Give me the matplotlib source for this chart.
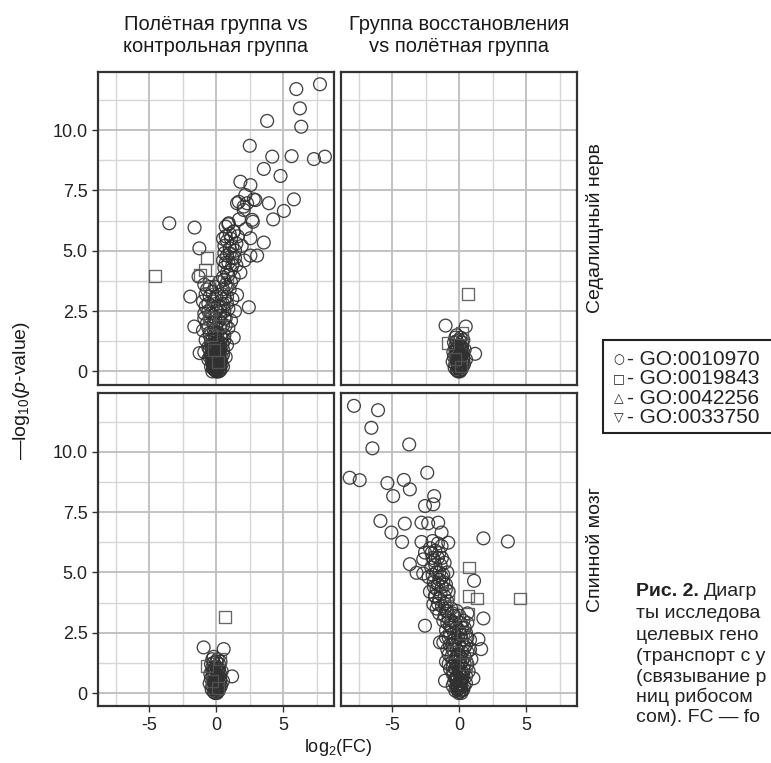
import matplotlib
matplotlib.use("Agg")
import matplotlib.pyplot as plt
from matplotlib.patches import Rectangle

plt.rcParams['font.family'] = ['Liberation Sans', 'DejaVu Sans']
plt.rcParams['mathtext.fontset'] = 'custom'
plt.rcParams['mathtext.rm'] = 'Liberation Sans'
plt.rcParams['mathtext.it'] = 'Liberation Sans:italic'
plt.rcParams['axes.unicode_minus'] = False

# ---------------- data ----------------
col_titles = ["Полётная группа vs\nконтрольная группа",
              "Группа восстановления\nvs полётная группа"]
row_titles = ["Седалищный нерв", "Спинной мозг"]
x_ticks = [-5, 0, 5]
x_tick_labels = ["-5", "0", "5"]
y_ticks = [0, 2.5, 5, 7.5, 10]
y_tick_labels = ["0", "2.5", "5.0", "7.5", "10.0"]
x_minor = [-7.5, -2.5, 2.5, 7.5]
y_minor = [1.25, 3.75, 6.25, 8.75, 11.25]
legend_symbols = ["○", "□", "△", "▽"]
legend_labels = ["GO:0010970", "GO:0019843", "GO:0042256", "GO:0033750"]
caption_bold = "Рис. 2."
caption_lines = ["Диагр", "ты исследова", "целевых гено", "(транспорт с у",
                 "(связывание р", "ниц рибосом", "сом). FC — fo"]

# sciatic nerve, flight vs control
tl_circ_x = [7.75, 5.98, 6.25, 6.35, 3.8, 2.5, 4.18, 5.63, 7.3, 8.12, 3.55, 4.8, 1.8, 2.55,
             2.17, 2.8, 1.55, 2.05, 3.93, 5.8, 5.05, 4.25, 2.73, -3.52, -1.63, 3.55, 2.55,
             2.55, 3.05, -1.27, -1.33, -1.95, 2.43, -1.65, -1.25, 1.68, 2.3, 2.93, 2.05,
             2.68, 0.93, 1.3, 1.55,
             0.9, 1.3, 0.7, 1.1, 1.6, 0.6, 1.0, 1.4, 0.8, 1.2, 0.5, 0.9, 1.5, 0.6, 1.1,
             0.8, 1.3, 0.5, 1.8, 2.1, 1.9, 2.2, 1.7,
             -0.9, -0.5, 0.2, 0.7, 1.0, -0.8, -0.3, 0.4, 0.8, 1.2, -1.0, -0.6, -0.2, 0.1,
             0.5, 0.9, 1.4, -0.9, -0.4, 0.3, 0.7, 1.1, -0.7, -0.2, 0.5, 0.9, -1.0, -0.5,
             0.1, 0.6, 1.3, -0.8, -0.3, 0.3, 0.8, -0.6, -0.1, 0.5, -0.9, -0.4, 0.2, 0.7,
             -0.6, -0.2, 0.3, 0.5, -0.4, 0.0, 0.1, -0.1, 0.2, -0.2, 0.0, 0.3, -0.3, 0.1,
             -0.1, 0.0, 0.2, -0.2, 0.4, 0.0, -0.4, 0.4, 0.0, -0.1, 0.3,
             0.7, 1.0, 0.8, 1.2, 0.6, 1.0, 0.7, 1.2, 0.9, 0.6, 1.1, 0.8, 1.4, 0.5, 1.5,
             -0.7, -0.1, 0.5, -0.5, 0.0, 0.6, -0.8, -0.3, 0.3, 0.8, -0.6, 0.0, 0.6, -0.9,
             -0.4, 0.2, 0.6, -0.6, -0.2, 0.3, 0.7,
             -0.5, -0.1, 0.3, 0.6, -0.4, 0.1, -0.5, -0.2, 0.3, 0.5, -0.3, 0.1, -0.5, 0.2,
             -0.2, 0.4, -0.3, 0.0, 0.2, -0.1, 0.15, -0.15, 0.05, 0.25, -0.25, 0.0, 0.1,
             -0.05, 0.35, -0.35, 0.1, -0.1, 0.45,
             -0.25, 0.05, 0.3, -0.15, 0.2, -0.3, 0.1, -0.05, 0.25, -0.2, 0.15, 0.0, -0.1,
             0.05, 0.2, -0.15, 0.1]
tl_circ_y = [11.9, 11.7, 10.9, 10.14, 10.38, 9.35, 8.9, 8.92, 8.8, 8.9, 8.39, 8.1, 7.86, 7.72,
             7.31, 7.13, 6.97, 6.83, 6.97, 7.13, 6.65, 6.3, 6.2, 6.14, 5.96, 5.34, 5.52,
             4.8, 4.8, 5.1, 3.93, 3.1, 2.66, 1.86, 0.76, 7.03, 6.97, 7.1, 6.69,
             6.28, 6.14, 5.79, 3.17,
             6.1, 5.8, 5.6, 5.5, 5.6, 5.2, 5.1, 5.0, 4.8, 4.7, 4.6, 4.5, 4.4, 4.3, 4.2,
             4.1, 3.9, 3.9, 4.1, 4.6, 5.2, 5.9, 6.3,
             3.6, 3.5, 3.7, 3.6, 3.4, 3.2, 3.3, 3.2, 3.1, 3.0, 2.9, 2.8, 2.9, 2.7,
             2.8, 2.6, 2.5, 2.4, 2.4, 2.3, 2.2, 2.1, 2.0, 2.0, 1.9, 1.8, 1.7, 1.6,
             1.6, 1.5, 1.4, 1.3, 1.3, 1.2, 1.1, 1.0, 1.0, 0.9, 0.8, 0.7, 0.7, 0.6,
             0.5, 0.4, 0.4, 0.2, 0.2, 0.3, 0.1, 0.05, 0.0, 0.1, 0.15, 0.05, 0.0, 0.5,
             0.6, 0.8, 1.0, 0.8, 0.6, 1.2, 1.1, 1.4, 1.8, 2.2, 2.5,
             6.0, 5.7, 5.4, 5.2, 4.9, 4.9, 4.5, 4.4, 4.0, 3.8, 3.7, 3.5, 4.7, 5.5, 5.3,
             3.4, 3.5, 3.4, 3.1, 3.1, 3.0, 2.7, 2.7, 2.7, 2.8, 2.5, 2.5, 2.5, 2.2,
             2.2, 2.1, 2.2, 1.8, 1.7, 1.8, 1.9,
             1.5, 1.4, 1.5, 1.3, 1.3, 1.2, 0.9, 1.1, 1.0, 0.7, 0.9, 0.9, 0.6, 0.8,
             0.6, 0.3, 0.4, 0.6, 0.55, 0.35, 0.25, 0.2, 0.45, 0.1, 0.3, 0.0, 0.15,
             0.1, 0.45, 0.65, 1.35, 1.55, 1.1,
             0.15, 0.2, 0.25, 0.4, 0.35, 0.5, 0.7, 0.75, 0.8, 0.95, 1.05, 0.05, 0.3,
             0.0, 0.6, 0.55, 0.9]
tl_sq_x = [-4.58, -0.7, -0.83, -0.58, -1.2, -0.58, -0.3, 0.8, -0.4, 0.2, -0.2, 0.1, -0.45]
tl_sq_y = [3.96, 4.7, 4.2, 3.72, 4.0, 2.2, 2.6, 3.72, 1.5, 1.9, 0.9, 0.4, 2.2]

# sciatic nerve, recovery vs flight
tr_circ_x = [-1.03, 0.48, 1.18, -0.2, 0.1, 0.3, -0.4, 0.0, 0.2, -0.3, 0.4, -0.1, 0.1, -0.4,
             0.3, 0.0, -0.2, 0.2, -0.3, 0.1, 0.0, -0.1, 0.15, -0.2, 0.05, 0.25, -0.35, 0.35,
             -0.45, 0.5, -0.5, 0.0, -0.15, 0.2, -0.1,
             -0.3, 0.0, 0.25, -0.25, 0.05, -0.05, 0.1, -0.15, 0.3, -0.3, 0.15, 0.0, -0.1,
             0.2, -0.2, 0.1, -0.1, 0.0, 0.2, -0.2, 0.05]
tr_circ_y = [1.9, 1.86, 0.73, 1.5, 1.4, 1.3, 1.2, 1.1, 1.0, 0.9, 0.9, 0.8, 0.7, 0.6,
             0.6, 0.5, 0.4, 0.4, 0.3, 0.3, 0.2, 0.15, 0.1, 0.05, 0.0, 0.2, 0.15, 0.3,
             0.8, 0.5, 0.4, 0.65, 1.0, 1.2, 0.35,
             1.4, 1.3, 0.85, 0.7, 0.55, 0.25, 0.05, 0.5, 0.45, 1.05, 0.9, 0.3, 0.0,
             0.7, 1.25, 0.6, 0.4, 0.15, 0.25, 0.85, 1.0]
tr_sq_x = [0.63, -0.83, 0.18, -0.3, 0.1]
tr_sq_y = [3.2, 1.17, 1.6, 0.5, 0.2]

# spinal cord, flight vs control
bl_circ_x = [-0.95, 0.55, 1.18, -0.2, 0.1, 0.3, -0.4, 0.0, 0.2, -0.3, 0.4, -0.1, 0.1, -0.4,
             0.3, 0.0, -0.2, 0.2, -0.3, 0.1, 0.0, -0.1, 0.15, -0.2, 0.05, 0.25, -0.35, 0.35,
             -0.45, 0.5, -0.5, 0.0, -0.15, 0.2, -0.1,
             -0.3, 0.0, 0.25, -0.25, 0.05, -0.05, 0.1, -0.15, 0.3, -0.3, 0.15, 0.0, -0.1,
             0.2, -0.2, 0.1, -0.1, 0.0, 0.2, -0.2, 0.05]
bl_circ_y = [1.89, 1.82, 0.69, 1.5, 1.4, 1.3, 1.2, 1.1, 1.0, 0.9, 0.9, 0.8, 0.7, 0.6,
             0.6, 0.5, 0.4, 0.4, 0.3, 0.3, 0.2, 0.15, 0.1, 0.05, 0.0, 0.2, 0.15, 0.3,
             0.8, 0.5, 0.4, 0.65, 1.0, 1.2, 0.35,
             1.4, 1.3, 0.85, 0.7, 0.55, 0.25, 0.05, 0.5, 0.45, 1.05, 0.9, 0.3, 0.0,
             0.7, 1.25, 0.6, 0.4, 0.15, 0.25, 0.85, 1.0]
bl_sq_x = [0.65, -0.7, 0.3, -0.3, 0.1]
bl_sq_y = [3.16, 1.13, 1.41, 0.5, 0.2]

# spinal cord, recovery vs flight
br_circ_x = [-7.88, -6.08, -6.58, -6.5, -3.75, -2.4, -8.2, -7.45, -5.38, -4.15, -3.7, -4.95,
             -1.88, -2.57, -1.95, -5.9, -4.08, -2.83, -2.33, -1.58, -5.08, -4.28, -2.83,
             -1.33, 1.8, 3.63, -3.7, -3.2, -2.7, -2.7, -2.57, 1.1, -1.83, -2.57, 1.8, 1.63,
             -1.07, 1.05, -2.07, -1.33, -0.83, -1.95, -1.45, 1.43,
             -2.2, -1.9, -1.6, -2.1, -1.4, -1.7, -2.3, -1.2, -1.5, -1.9, -1.0, -1.3, -1.7,
             -2.2, -0.8, -1.1, -1.5, -0.9, -1.3, -1.7, -0.6, -1.0, -1.5, -0.4, -0.8, -1.2,
             -0.3, -0.7, 0.2, -1.0, -0.4, 0.5, -0.8, -0.1, 0.8, -1.2, -0.5, 0.3, -0.9, -0.2,
             0.6, -0.6, 0.1, 0.9, -1.0, -0.3, 0.4, -0.7, 0.0, 0.7, -0.4, 0.3, -0.2, 0.5,
             -0.5, 0.1, -0.1, 0.2, 0.0, -0.3, 0.3, 0.0, -0.2, 0.1, -0.5, 0.2, -0.1, 0.4,
             -0.3, 0.0, -0.6, 0.3, -0.2, 0.6, -0.9, -1.3, -1.8, -1.1, -2.0, -1.6,
             -1.8, -1.5, -2.0, -1.6, -1.2, -1.8, -1.4, -1.1, -1.6, -1.9, -1.3, -1.0, -2.0,
             -1.5,
             -0.9, -0.5, 0.0, -1.1, -0.6, 0.1, 0.6, -0.9, -0.2, 0.4, -0.7, 0.1, 0.6, -1.0,
             -0.4, 0.2, -0.7, 0.0, 0.5, -0.5, 0.2, 0.8, -0.8, -0.2, 0.4, -0.5, 0.1, 0.6,
             -0.8, -0.3, 0.3, -0.5, 0.0, 0.5, -0.3, 0.2, -0.4, 0.35, -0.15, 0.05, -0.05,
             0.15, -0.2,
             -0.1, 0.1, -0.25, 0.2, 0.0, -0.15, 0.25, -0.3, 0.05, 0.15, -0.05, -0.2]
br_circ_y = [11.9, 11.72, 10.99, 10.14, 10.3, 9.13, 8.92, 8.82, 8.7, 8.83, 8.44, 8.16,
             8.16, 7.75, 7.82, 7.13, 7.02, 7.06, 7.03, 7.06, 6.65, 6.26, 6.26,
             6.65, 6.41, 6.28, 5.34, 4.98, 4.95, 5.54, 5.82, 4.65, 4.03, 2.79, 3.09, 1.82,
             0.51, 0.61, 5.81, 6.09, 6.23, 3.68, 2.1, 2.23,
             6.0, 5.5, 5.6, 5.2, 5.3, 5.0, 4.8, 4.9, 4.7, 4.6, 4.5, 4.4, 4.3,
             4.2, 4.2, 4.0, 3.9, 3.8, 3.6, 3.5, 3.5, 3.4, 3.3, 3.2, 3.1, 3.0,
             2.9, 2.8, 2.7, 2.6, 2.5, 2.5, 2.3, 2.3, 2.2, 2.1, 2.0, 2.0, 1.8, 1.8,
             1.7, 1.5, 1.5, 1.4, 1.3, 1.3, 1.2, 1.0, 1.0, 0.9, 0.8, 0.7, 0.5, 0.4,
             0.3, 0.3, 0.15, 0.1, 0.05, 0.1, 0.15, 0.4, 0.7, 0.8, 1.1, 1.3, 1.6, 1.9,
             2.1, 2.6, 2.7, 3.0, 3.4, 3.3, 5.0, 5.6, 5.9, 5.4, 6.3, 6.2,
             5.3, 5.0, 4.9, 4.5, 4.6, 4.0, 4.1, 3.7, 3.7, 4.4, 4.8, 4.3, 5.6,
             5.8,
             3.4, 3.3, 3.2, 3.2, 3.0, 2.9, 2.9, 2.9, 2.7, 2.7, 2.5, 2.4, 2.3, 2.3,
             2.2, 2.2, 2.0, 2.0, 2.0, 1.8, 1.7, 1.8, 1.6, 1.5, 1.5, 1.3, 1.2, 1.2,
             1.2, 1.0, 1.0, 0.8, 0.8, 0.7, 0.6, 0.5, 0.45, 0.3, 0.3, 0.2, 0.0,
             0.0, 0.2,
             0.25, 0.4, 0.6, 0.65, 0.9, 1.1, 0.85, 1.4, 0.55, 0.1, 1.2, 0.35]
br_sq_x = [0.75, 4.55, -0.83, 0.68, 1.3, 0.68, -0.53, 0.3, -0.4, 0.5]
br_sq_y = [5.2, 3.92, 4.1, 4.03, 3.92, 3.27, 3.13, 2.5, 1.7, 1.2]

panels = [
    [(tl_circ_x, tl_circ_y, tl_sq_x, tl_sq_y), (tr_circ_x, tr_circ_y, tr_sq_x, tr_sq_y)],
    [(bl_circ_x, bl_circ_y, bl_sq_x, bl_sq_y), (br_circ_x, br_circ_y, br_sq_x, br_sq_y)],
]

# ---------------- layout ----------------
W, H = 771, 763
fig = plt.figure(figsize=(W / 100, H / 100), dpi=100)


def fx(px):
    return px / W


def fy(py):
    return 1 - py / H


col_left = [98, 341]
col_w = 236
row_top = [71.7, 393.3]
row_h = 313

edge = '#303030'
for r in range(2):
    for c in range(2):
        ax = fig.add_axes([fx(col_left[c]), fy(row_top[r] + row_h), col_w / W, row_h / H])
        cx, cy, sx, sy = panels[r][c]
        ax.set_xlim(-8.85, 8.8)
        ax.set_ylim(-0.55, 12.42)
        for v in x_minor:
            ax.axvline(v, color='#d6d6d6', lw=1.0, zorder=0)
        for v in y_minor:
            ax.axhline(v, color='#d6d6d6', lw=1.0, zorder=0)
        for v in x_ticks:
            ax.axvline(v, color='#c2c2c2', lw=1.4, zorder=0)
        for v in y_ticks:
            ax.axhline(v, color='#c2c2c2', lw=1.4, zorder=0)
        ax.scatter(cx, cy, s=85, facecolors='none', edgecolors=edge, linewidths=0.95,
                   alpha=0.9, zorder=3)
        ax.scatter(sx, sy, s=72, marker='s', facecolors='none', edgecolors='#555555',
                   linewidths=0.95, alpha=0.9, zorder=3)
        for sp in ax.spines.values():
            sp.set_color('#333333')
            sp.set_linewidth(1.6)
        ax.set_xticks(x_ticks)
        ax.set_yticks(y_ticks)
        ax.tick_params(direction='out', length=4, width=1, color='#333333',
                       labelsize=13, labelcolor='#222222')
        if r == 1:
            ax.set_xticklabels(x_tick_labels)
        else:
            ax.tick_params(axis='x', length=0, labelbottom=False)
        if c == 0:
            ax.set_yticklabels(y_tick_labels)
        else:
            ax.tick_params(axis='y', length=0, labelleft=False)

# column strip titles
for c in range(2):
    fig.text(fx(col_left[c] + col_w / 2), fy(35), col_titles[c], ha='center', va='center',
             fontsize=14.5, color='#1a1a1a', linespacing=1.2)
# row strip titles
for r in range(2):
    fig.text(fx(595), fy(row_top[r] + row_h / 2), row_titles[r], rotation=90,
             ha='center', va='center', fontsize=14, color='#1a1a1a')

fig.text(fx(22), fy(390), "—log$_{10}$($p$-value)", rotation=90, ha='center', va='center',
         fontsize=14, color='#1a1a1a')
fig.text(fx(338), fy(748), "log$_2$(FC)", ha='center', va='center', fontsize=13,
         color='#1a1a1a')

# legend box (its right side runs past the figure edge, as in the source)
fig.add_artist(Rectangle((fx(603), fy(433)), 300 / W, 93 / H, transform=fig.transFigure,
                         facecolor='white', edgecolor='#222222', lw=1.5, clip_on=False))
leg_y = [360, 379, 398.5, 417.5]
for sym, lab, yy in zip(legend_symbols, legend_labels, leg_y):
    fig.text(fx(619), fy(yy), sym, ha='center', va='center', fontsize=9,
             family='DejaVu Sans', color='#222222')
    fig.text(fx(627), fy(yy), "- " + lab, ha='left', va='center', fontsize=15, color='#222222')

# caption fragment
cap_y = [592, 613.5, 635, 656.5, 677, 697, 717]
t_bold = fig.text(fx(636), fy(cap_y[0]), caption_bold, ha='left', va='center', fontsize=14,
                  weight='bold', color='#222222')
renderer = fig.canvas.get_renderer()
bb = t_bold.get_window_extent(renderer=renderer)
fig.text((bb.x1 + 5) / W, fy(cap_y[0]), caption_lines[0], ha='left', va='center', fontsize=14,
         color='#222222')
for line, yy in zip(caption_lines[1:], cap_y[1:]):
    fig.text(fx(636), fy(yy), line, ha='left', va='center', fontsize=14, color='#222222')

fig.savefig("out.png", dpi=100)
